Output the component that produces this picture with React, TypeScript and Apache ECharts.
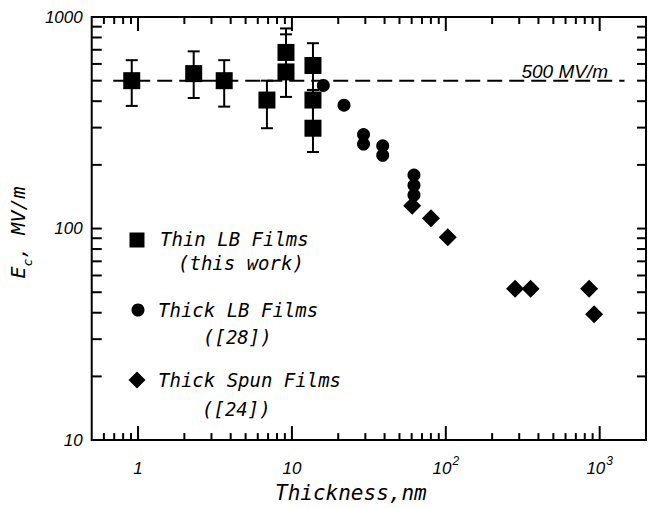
import React, { useEffect, useRef } from "react";
import * as echarts from "echarts";

// ---- Data ----
const thinX = [0.91, 2.3, 3.63, 6.88, 9.15, 9.15, 13.7, 13.7, 13.7];
const thinY = [500, 540, 500, 405, 680, 550, 590, 405, 298];
const thinErrLow = [380, 414, 377, 298, 550, 419, 452, 298, 230];
const thinErrHigh = [625, 688, 625, 500, 883, 828, 752, 452, 405];

const thickLBX = [16.0, 21.8, 29.2, 29.2, 38.9, 38.9, 62.1, 62.1, 62.1];
const thickLBY = [475, 383, 278, 251, 246, 222, 179, 160, 144];

const spunX = [60.5, 80.1, 103, 282, 356, 854, 920];
const spunY = [128, 112, 91, 52, 52, 52, 39.3];

const refLineX = [0.69, 1450];
const refLineY = [500, 500];

const xMin = 0.5;
const xMax = 2000;
const yMin = 10;
const yMax = 1000;

const xMinorTicks = [0.6, 0.7, 0.8, 0.9, 2, 3, 4, 5, 6, 7, 8, 9, 20, 30, 40, 50, 60, 70, 80, 90, 200, 300, 400, 500, 600, 700, 800, 900];
const xMajorTicks = [1, 10, 100, 1000];
const yTicks = [20, 30, 40, 50, 60, 70, 80, 90, 100, 200, 300, 400, 500, 600, 700, 800, 900];

const MONO = '"DejaVu Sans Mono", monospace';
const SANS = '"Liberation Sans", Arial, sans-serif';

function isPow10(v: number) {
  const l = Math.log10(v);
  return Math.abs(l - Math.round(l)) < 1e-6;
}

function legendText(x: number, y: number, l1: string, l2: string, lh: number, indent: number) {
  const base = { fontFamily: MONO, fontStyle: "italic", fontSize: 19, fill: "#000", color: "#000", lineHeight: lh };
  return {
    type: "text",
    x,
    y,
    style: {
      text: "{a|" + l1 + "}\n{b|" + l2 + "}",
      rich: {
        a: { ...base },
        b: { ...base, padding: [0, 0, 0, indent] },
      },
      fill: "#000",
      align: "left",
      verticalAlign: "middle",
      textAlign: "left",
      textVerticalAlign: "middle",
    },
  };
}

export default function App() {
  const ref = useRef<HTMLDivElement>(null);
  useEffect(() => {
    if (!ref.current) return;
    const chart = echarts.init(ref.current, null, { renderer: "svg" });

    const xTickData = [
      ...xMinorTicks.map((v) => [v, 100, 0]),
      ...xMajorTicks.map((v) => [v, 100, 1]),
    ];
    const yTickData = yTicks.map((v) => [1, v]);

    const option: any = {
      animation: false,
      backgroundColor: "#fff",
      grid: {
        left: 84,
        right: 2,
        top: 17,
        bottom: 59,
        show: true,
        borderColor: "#000",
        borderWidth: 2,
        backgroundColor: "transparent",
      },
      xAxis: {
        type: "log",
        logBase: 10,
        min: xMin,
        max: xMax,
        axisLine: { show: false },
        axisTick: { show: false },
        splitLine: { show: false },
        minorTick: { show: false },
        axisLabel: {
          margin: 15,
          color: "#000",
          fontFamily: SANS,
          fontStyle: "italic",
          fontSize: 17,
          formatter: (v: number) => {
            if (!isPow10(v)) return "";
            const e = Math.round(Math.log10(v));
            if (e === 0) return "{b|1}";
            if (e === 1) return "{b|10}";
            return "{b|10}{s|" + e + "}";
          },
          rich: {
            b: { fontFamily: SANS, fontStyle: "italic", fontSize: 17, color: "#000", lineHeight: 22, verticalAlign: "bottom" },
            s: { fontFamily: SANS, fontStyle: "italic", fontSize: 12, color: "#000", verticalAlign: "top", lineHeight: 22, padding: [0, 0, 0, 1] },
          },
        },
        name: "Thickness,nm",
        nameLocation: "middle",
        nameGap: 35,
        nameTextStyle: { fontFamily: MONO, fontStyle: "italic", fontSize: 21, color: "#000", padding: [0, 36, 0, 0] },
      },
      yAxis: {
        type: "log",
        logBase: 10,
        min: yMin,
        max: yMax,
        axisLine: { show: false },
        axisTick: { show: false },
        splitLine: { show: false },
        axisLabel: {
          margin: 9,
          color: "#000",
          fontFamily: SANS,
          fontStyle: "italic",
          fontSize: 17,
          formatter: (v: number) => (isPow10(v) ? String(Math.round(v)) : ""),
        },
        name: "{e|E}{c|c}{t|, MV/m}",
        nameLocation: "middle",
        nameRotate: 90,
        nameGap: 52,
        nameTextStyle: {
          padding: [0, 8, 0, 0],
          rich: {
            e: { fontFamily: MONO, fontStyle: "italic", fontSize: 20, color: "#000", lineHeight: 26, verticalAlign: "top" },
            c: { fontFamily: MONO, fontStyle: "italic", fontSize: 13, color: "#000", lineHeight: 26, verticalAlign: "bottom" },
            t: { fontFamily: MONO, fontStyle: "italic", fontSize: 20, color: "#000", lineHeight: 26, verticalAlign: "top" },
          },
        },
      },
      series: [
        {
          name: "xTicks",
          type: "custom",
          silent: true,
          data: xTickData,
          encode: { x: 0, y: 1 },
          renderItem: (params: any, api: any) => {
            const v = api.value(0);
            const major = api.value(2) === 1;
            const len = major ? 14 : 7;
            const pb = api.coord([v, yMin]);
            const pt = api.coord([v, yMax]);
            return {
              type: "group",
              children: [
                { type: "line", shape: { x1: pb[0], y1: pb[1], x2: pb[0], y2: pb[1] - len }, style: { stroke: "#000", lineWidth: 2 } },
                { type: "line", shape: { x1: pt[0], y1: pt[1], x2: pt[0], y2: pt[1] + len }, style: { stroke: "#000", lineWidth: 2 } },
              ],
            };
          },
          z: 5,
        },
        {
          name: "yTicks",
          type: "custom",
          silent: true,
          data: yTickData,
          encode: { x: 0, y: 1 },
          renderItem: (params: any, api: any) => {
            const v = api.value(1);
            const pl = api.coord([xMin, v]);
            const pr = api.coord([xMax, v]);
            return {
              type: "group",
              children: [
                { type: "line", shape: { x1: pl[0], y1: pl[1], x2: pl[0] + 10, y2: pl[1] }, style: { stroke: "#000", lineWidth: 2 } },
                { type: "line", shape: { x1: pr[0], y1: pr[1], x2: pr[0] - 9, y2: pr[1] }, style: { stroke: "#000", lineWidth: 2 } },
              ],
            };
          },
          z: 5,
        },
        {
          name: "500 MV/m",
          type: "line",
          data: refLineX.map((x, i) => [x, refLineY[i]]),
          showSymbol: false,
          symbol: "none",
          lineStyle: { color: "#000", width: 2, type: [15, 7], opacity: 1 },
          silent: true,
          z: 2,
        },
        {
          name: "errorbars",
          type: "custom",
          silent: true,
          data: thinX.map((x, i) => [x, thinErrLow[i], thinErrHigh[i]]),
          encode: { x: 0, y: [1, 2] },
          renderItem: (params: any, api: any) => {
            const x = api.value(0);
            const lo = api.coord([x, api.value(1)]);
            const hi = api.coord([x, api.value(2)]);
            const w = 6;
            const st = { stroke: "#000", lineWidth: 2 };
            return {
              type: "group",
              children: [
                { type: "line", shape: { x1: lo[0], y1: lo[1], x2: hi[0], y2: hi[1] }, style: st },
                { type: "line", shape: { x1: lo[0] - w, y1: lo[1], x2: lo[0] + w, y2: lo[1] }, style: st },
                { type: "line", shape: { x1: hi[0] - w, y1: hi[1], x2: hi[0] + w, y2: hi[1] }, style: st },
              ],
            };
          },
          z: 3,
        },
        {
          name: "Thin LB Films (this work)",
          type: "scatter",
          symbol: "rect",
          symbolSize: 17,
          itemStyle: { color: "#000", opacity: 1 },
          data: thinX.map((x, i) => [x, thinY[i]]),
          z: 4,
        },
        {
          name: "Thick LB Films ([28])",
          type: "scatter",
          symbol: "circle",
          symbolSize: 13,
          itemStyle: { color: "#000", opacity: 1 },
          data: thickLBX.map((x, i) => [x, thickLBY[i]]),
          z: 4,
        },
        {
          name: "Thick Spun Films ([24])",
          type: "scatter",
          symbol: "diamond",
          symbolSize: 18,
          itemStyle: { color: "#000", opacity: 1 },
          data: spunX.map((x, i) => [x, spunY[i]]),
          z: 4,
        },
      ],
      graphic: [
        // legend markers
        { type: "rect", shape: { x: 129.5, y: 232.5, width: 15, height: 15 }, style: { fill: "#000" } },
        { type: "circle", shape: { cx: 138, cy: 310, r: 6.5 }, style: { fill: "#000" } },
        { type: "polygon", shape: { points: [[137, 371.5], [145.5, 380], [137, 388.5], [128.5, 380]] }, style: { fill: "#000" } },
        // legend texts
        legendText(160, 251, "Thin LB Films", "(this work)", 24, 18),
        legendText(158, 323.5, "Thick LB Films", "([28])", 27, 45),
        legendText(158, 394.5, "Thick Spun Films", "([24])", 29, 44),
        // reference line label
        { type: "text", x: 608, y: 71, style: { text: "500 MV/m", font: `italic 19px ${SANS}`, fill: "#000", textAlign: "right", textVerticalAlign: "middle", align: "right", verticalAlign: "middle" } },
      ],
    };
    chart.setOption(option);
    return () => chart.dispose();
  }, []);
  return (
    <div
      ref={ref}
      style={{ position: "fixed", left: 0, top: 0, width: 649, height: 508, background: "#fff" }}
    />
  );
}
